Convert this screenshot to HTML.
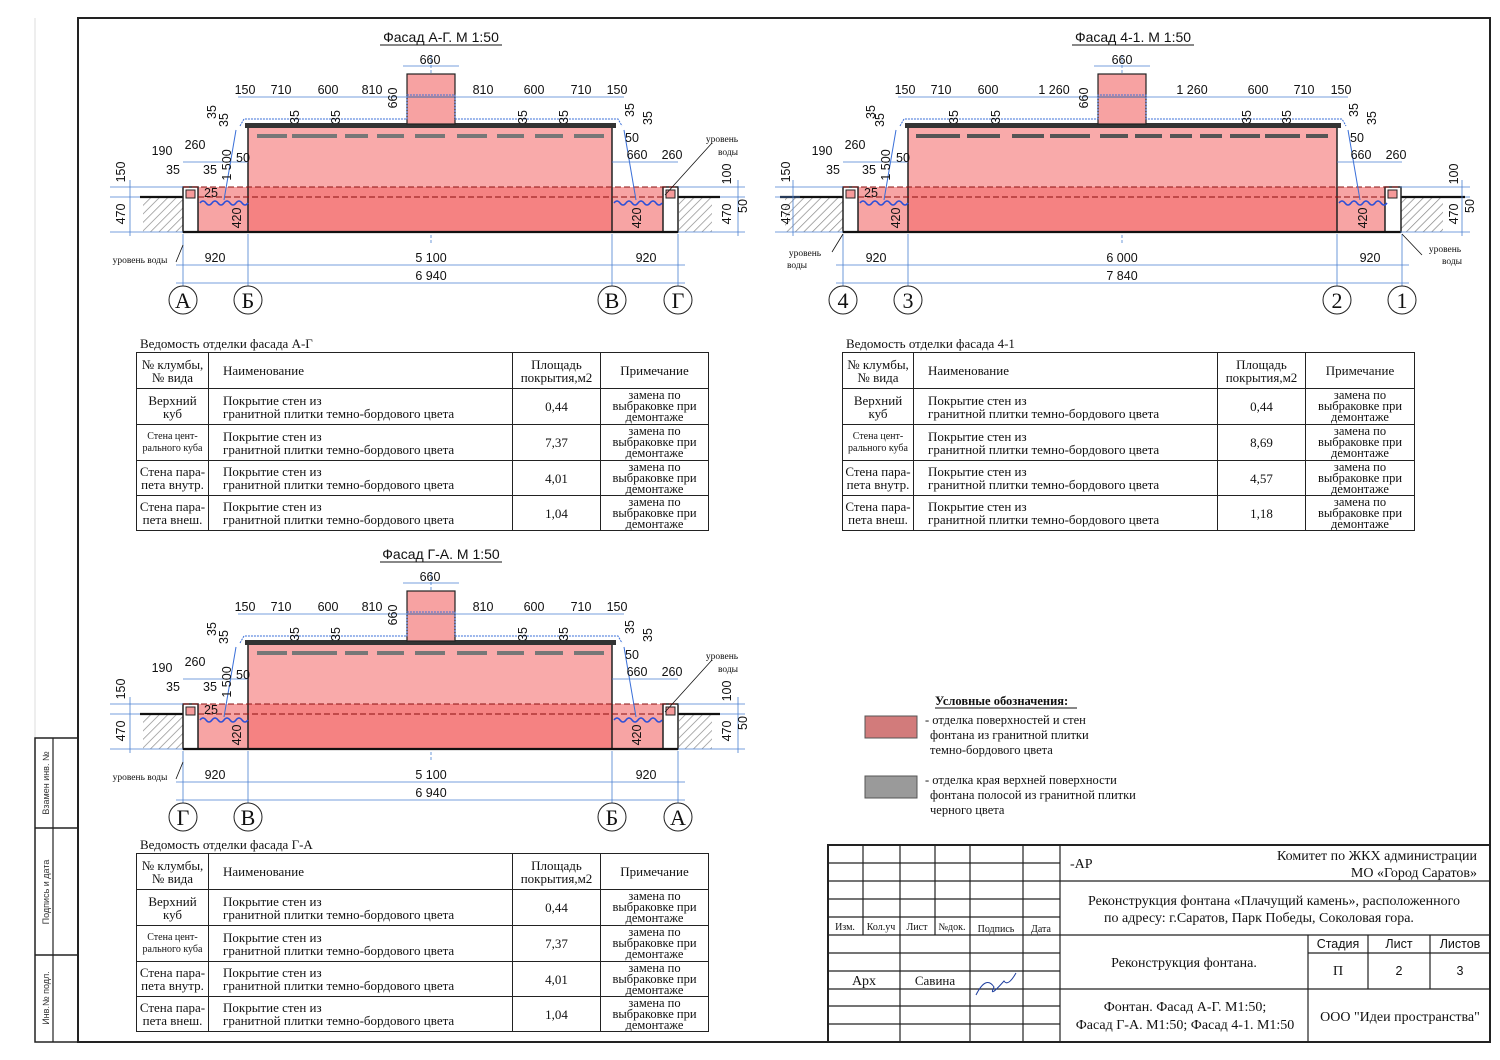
<!DOCTYPE html>
<html><head><meta charset="utf-8">
<style>
html,body{margin:0;padding:0;background:#fff;}
body{width:1500px;height:1060px;position:relative;overflow:hidden;font-family:"Liberation Sans",sans-serif;}
svg{position:absolute;left:0;top:0;}
.t{font-family:"Liberation Sans",sans-serif;font-size:12.5px;fill:#111;}
.s{font-family:"Liberation Serif",serif;fill:#111;}
table.v{position:absolute;border-collapse:collapse;table-layout:fixed;font-family:"Liberation Serif",serif;font-size:13px;color:#111;}
table.v td{border:1.5px solid #222;padding:0;text-align:center;vertical-align:middle;line-height:13px;overflow:hidden;}
table.v td.n{text-align:left;padding-left:14px;}
table.v td.sm{font-size:10px;line-height:12px;}
table.v td.nt{line-height:11px;font-size:12.5px;}
.cap{position:absolute;font-family:"Liberation Serif",serif;font-size:13px;color:#111;}
</style></head><body>
<svg width="1500" height="1060" viewBox="0 0 1500 1060">
<defs>
<pattern id="h" width="6" height="6" patternUnits="userSpaceOnUse" patternTransform="rotate(45)">
<rect width="6" height="6" fill="#fff"/><line x1="0" y1="0" x2="0" y2="6" stroke="#888" stroke-width="1.4"/></pattern>
<path id="wave" d="M0,0 q3,-4 6,0 t6,0 t6,0 t6,0 t6,0 t6,0 t6,0 t6,0" fill="none" stroke="#2b4fd8" stroke-width="1.5"/>
<g id="fA">
 <line x1="431" y1="55" x2="431" y2="245" stroke="#4a7fd0" stroke-width="0.8" stroke-dasharray="3,2"/>
 <rect x="143" y="198" width="40" height="34" fill="url(#h)"/>
 <rect x="679" y="198" width="33" height="34" fill="url(#h)"/>
 <line x1="140" y1="197" x2="183" y2="197" stroke="#111" stroke-width="2.2"/>
 <line x1="678" y1="197" x2="720" y2="197" stroke="#111" stroke-width="2.2"/>
 <rect x="198" y="187" width="50" height="45" fill="#f7a4a4"/>
 <rect x="612" y="187" width="51" height="45" fill="#f7a4a4"/>
 <rect x="183" y="187" width="15" height="45" fill="#fff" stroke="#222" stroke-width="1.5"/>
 <rect x="186" y="190" width="9" height="8" fill="#f59a9a" stroke="#222" stroke-width="1"/>
 <rect x="663" y="187" width="15" height="45" fill="#fff" stroke="#222" stroke-width="1.5"/>
 <rect x="666" y="190" width="9" height="8" fill="#f59a9a" stroke="#222" stroke-width="1"/>
 <rect x="248" y="127" width="364" height="60" fill="#f9aaaa"/>
 <rect x="248" y="187" width="364" height="45" fill="#f58282"/>
 <rect x="248" y="127" width="364" height="105" fill="none" stroke="#222" stroke-width="1.5"/>
 <rect x="245" y="123" width="371" height="5" fill="#333"/>
 <rect x="407" y="74" width="48" height="50" fill="#f7a2a2" stroke="#222" stroke-width="1.2"/>
 <line x1="407" y1="97" x2="455" y2="97" stroke="#222"/>
 <line x1="183" y1="187" x2="678" y2="187" stroke="#8a1010" stroke-width="0.9" stroke-dasharray="6,3"/>
 <line x1="198" y1="197" x2="663" y2="197" stroke="#8a1010" stroke-width="0.9" stroke-dasharray="6,3"/>
 <line x1="183" y1="232" x2="678" y2="232" stroke="#111" stroke-width="2.2"/>
 <g fill="#777"><rect x="257" y="134" width="30" height="4"/><rect x="292" y="134" width="45" height="4"/><rect x="345" y="134" width="23" height="4"/><rect x="377" y="134" width="27" height="4"/><rect x="415" y="134" width="30" height="4"/><rect x="457" y="134" width="30" height="4"/><rect x="497" y="134" width="27" height="4"/><rect x="535" y="134" width="28" height="4"/><rect x="574" y="134" width="30" height="4"/></g>
 <polyline points="240,126 244,119 407,119 407,95 455,95 455,119 618,119 622,126" fill="none" stroke="#3a6fd8" stroke-width="1" stroke-dasharray="2,1"/>
 <polyline points="236,130 224,200" fill="none" stroke="#3a6fd8" stroke-width="1"/>
 <polyline points="624,130 636,200" fill="none" stroke="#3a6fd8" stroke-width="1"/>
 <use href="#wave" x="200" y="203"/><use href="#wave" x="614" y="203"/>
 <g stroke="#4a7fd0" stroke-width="0.8" fill="none">
  <line x1="403" y1="66" x2="459" y2="66"/>
  <line x1="238" y1="97" x2="624" y2="97"/>
  <line x1="176" y1="265" x2="685" y2="265"/>
  <line x1="176" y1="283" x2="685" y2="283"/>
  <line x1="183" y1="234" x2="183" y2="286"/><line x1="248" y1="234" x2="248" y2="286"/><line x1="612" y1="234" x2="612" y2="286"/><line x1="678" y1="234" x2="678" y2="286"/>
  <line x1="110" y1="187" x2="183" y2="187"/><line x1="110" y1="197" x2="140" y2="197"/><line x1="110" y1="232" x2="183" y2="232"/>
  <line x1="130" y1="180" x2="130" y2="236"/>
  <line x1="678" y1="187" x2="745" y2="187"/><line x1="720" y1="197" x2="745" y2="197"/><line x1="678" y1="232" x2="745" y2="232"/>
  <line x1="738" y1="180" x2="738" y2="236"/>
  <line x1="183" y1="162" x2="248" y2="162"/><line x1="612" y1="162" x2="678" y2="162"/>
 </g>
 <line x1="183" y1="245" x2="176" y2="262" stroke="#111" stroke-width="0.8"/>
 <line x1="665" y1="195" x2="712" y2="143" stroke="#111" stroke-width="0.8"/>
 <g fill="#fff" stroke="#222" stroke-width="1"><circle cx="183" cy="300" r="14"/><circle cx="248" cy="300" r="14"/><circle cx="612" cy="300" r="14"/><circle cx="678" cy="300" r="14"/></g>
</g>
<g id="fB">
 <line x1="1122" y1="55" x2="1122" y2="245" stroke="#4a7fd0" stroke-width="0.8" stroke-dasharray="3,2"/>
 <rect x="785" y="198" width="58" height="34" fill="url(#h)"/>
 <rect x="1401" y="198" width="42" height="34" fill="url(#h)"/>
 <line x1="780" y1="197" x2="843" y2="197" stroke="#111" stroke-width="2.2"/>
 <line x1="1400" y1="197" x2="1465" y2="197" stroke="#111" stroke-width="2.2"/>
 <rect x="858" y="187" width="50" height="45" fill="#f7a4a4"/>
 <rect x="1337" y="187" width="48" height="45" fill="#f7a4a4"/>
 <rect x="843" y="187" width="15" height="45" fill="#fff" stroke="#222" stroke-width="1.5"/>
 <rect x="846" y="190" width="9" height="8" fill="#f59a9a" stroke="#222" stroke-width="1"/>
 <rect x="1385" y="187" width="16" height="45" fill="#fff" stroke="#222" stroke-width="1.5"/>
 <rect x="1388" y="190" width="9" height="8" fill="#f59a9a" stroke="#222" stroke-width="1"/>
 <rect x="908" y="127" width="429" height="60" fill="#f9aaaa"/>
 <rect x="908" y="187" width="429" height="45" fill="#f58282"/>
 <rect x="908" y="127" width="429" height="105" fill="none" stroke="#222" stroke-width="1.5"/>
 <rect x="905" y="123" width="436" height="5" fill="#333"/>
 <rect x="1098" y="74" width="48" height="50" fill="#f7a2a2" stroke="#222" stroke-width="1.2"/>
 <line x1="1098" y1="97" x2="1146" y2="97" stroke="#222"/>
 <line x1="843" y1="187" x2="1400" y2="187" stroke="#8a1010" stroke-width="0.9" stroke-dasharray="6,3"/>
 <line x1="858" y1="197" x2="1385" y2="197" stroke="#8a1010" stroke-width="0.9" stroke-dasharray="6,3"/>
 <line x1="843" y1="232" x2="1401" y2="232" stroke="#111" stroke-width="2.2"/>
 <g fill="#555"><rect x="916" y="134" width="44" height="4"/><rect x="967" y="134" width="33" height="4"/><rect x="1012" y="134" width="32" height="4"/><rect x="1050" y="134" width="40" height="4"/><rect x="1100" y="134" width="28" height="4"/><rect x="1135" y="134" width="27" height="4"/><rect x="1170" y="134" width="22" height="4"/><rect x="1200" y="134" width="22" height="4"/><rect x="1230" y="134" width="30" height="4"/><rect x="1265" y="134" width="35" height="4"/><rect x="1306" y="134" width="22" height="4"/></g>
 <polyline points="900,126 904,119 1098,119 1098,95 1146,95 1146,119 1342,119 1346,126" fill="none" stroke="#3a6fd8" stroke-width="1" stroke-dasharray="2,1"/>
 <polyline points="896,130 884,200" fill="none" stroke="#3a6fd8" stroke-width="1"/>
 <polyline points="1348,130 1360,200" fill="none" stroke="#3a6fd8" stroke-width="1"/>
 <use href="#wave" x="860" y="203"/><use href="#wave" x="1339" y="203"/>
 <g stroke="#4a7fd0" stroke-width="0.8" fill="none">
  <line x1="1094" y1="66" x2="1150" y2="66"/>
  <line x1="898" y1="97" x2="1348" y2="97"/>
  <line x1="836" y1="265" x2="1409" y2="265"/>
  <line x1="836" y1="283" x2="1409" y2="283"/>
  <line x1="843" y1="234" x2="843" y2="286"/><line x1="908" y1="234" x2="908" y2="286"/><line x1="1337" y1="234" x2="1337" y2="286"/><line x1="1402" y1="234" x2="1402" y2="286"/>
  <line x1="775" y1="187" x2="843" y2="187"/><line x1="775" y1="197" x2="800" y2="197"/><line x1="775" y1="232" x2="843" y2="232"/>
  <line x1="793" y1="180" x2="793" y2="236"/>
  <line x1="1400" y1="187" x2="1470" y2="187"/><line x1="1465" y1="197" x2="1470" y2="197"/><line x1="1400" y1="232" x2="1470" y2="232"/>
  <line x1="1462" y1="180" x2="1462" y2="236"/>
  <line x1="843" y1="162" x2="908" y2="162"/><line x1="1337" y1="162" x2="1402" y2="162"/>
 </g>
 <line x1="843" y1="234" x2="832" y2="252" stroke="#111" stroke-width="0.8"/>
 <line x1="1402" y1="234" x2="1422" y2="255" stroke="#111" stroke-width="0.8"/>
 <g fill="#fff" stroke="#222" stroke-width="1"><circle cx="843" cy="300" r="14"/><circle cx="908" cy="300" r="14"/><circle cx="1337" cy="300" r="14"/><circle cx="1402" cy="300" r="14"/></g>
</g>
</defs>

<rect x="78" y="18" width="1412" height="1024" fill="none" stroke="#222" stroke-width="2"/>
<line x1="35" y1="18" x2="35" y2="738" stroke="#ddd" stroke-width="1"/>
<rect x="35" y="738" width="43" height="304" fill="none" stroke="#222" stroke-width="1.5"/>
<line x1="35" y1="828" x2="78" y2="828" stroke="#222" stroke-width="1.5"/>
<line x1="35" y1="955" x2="78" y2="955" stroke="#222" stroke-width="1.5"/>
<line x1="53" y1="738" x2="53" y2="1042" stroke="#222" stroke-width="1.2"/>
<g font-family="Liberation Sans" font-size="9" fill="#333" text-anchor="middle">
<text transform="translate(49,783) rotate(-90)">Взамен инв. №</text>
<text transform="translate(49,892) rotate(-90)">Подпись и дата</text>
<text transform="translate(49,998) rotate(-90)">Инв.№ подл.</text>
</g>

<use href="#fA"/>
<use href="#fA" y="517"/>
<use href="#fB"/>

<g class="t" text-anchor="middle">
<text x="441" y="42" font-size="14">Фасад А-Г. М 1:50</text>
<line x1="380" y1="45" x2="502" y2="45" stroke="#111"/>
<text x="430" y="64">660</text>
<text x="245" y="94">150</text><text x="281" y="94">710</text><text x="328" y="94">600</text><text x="372" y="94">810</text>
<text x="483" y="94">810</text><text x="534" y="94">600</text><text x="581" y="94">710</text><text x="617" y="94">150</text>
<text transform="translate(397,98) rotate(-90)">660</text>
<text transform="translate(216,112) rotate(-90)">35</text><text transform="translate(228,120) rotate(-90)">35</text>
<text transform="translate(299,117) rotate(-90)">35</text><text transform="translate(340,117) rotate(-90)">35</text>
<text transform="translate(527,117) rotate(-90)">35</text><text transform="translate(568,117) rotate(-90)">35</text>
<text transform="translate(634,110) rotate(-90)">35</text><text transform="translate(652,118) rotate(-90)">35</text>
<text transform="translate(231,165) rotate(-90)">1 500</text>
<text x="243" y="162">50</text>
<text x="162" y="155">190</text><text x="195" y="149">260</text><text x="173" y="174">35</text><text x="210" y="174">35</text>
<text transform="translate(125,172) rotate(-90)">150</text><text transform="translate(125,214) rotate(-90)">470</text>
<text x="211" y="197">25</text>
<text transform="translate(241,218) rotate(-90)">420</text><text transform="translate(641,218) rotate(-90)">420</text>
<text x="632" y="142">50</text><text x="637" y="159">660</text><text x="672" y="159">260</text>
<text transform="translate(731,174) rotate(-90)">100</text><text transform="translate(731,214) rotate(-90)">470</text><text transform="translate(747,206) rotate(-90)">50</text>
<text x="215" y="262">920</text><text x="431" y="262">5 100</text><text x="646" y="262">920</text><text x="431" y="280">6 940</text>
</g>
<g class="s" font-size="9.5" text-anchor="middle"><text x="140" y="263">уровень воды</text><text x="722" y="142">уровень</text><text x="728" y="155">воды</text></g>
<g class="s" font-size="22" text-anchor="middle"><text x="183" y="308">А</text><text x="248" y="308">Б</text><text x="612" y="308">В</text><text x="678" y="308">Г</text></g>

<g transform="translate(0,517)">
<g class="t" text-anchor="middle">
<text x="441" y="42" font-size="14">Фасад Г-А. М 1:50</text>
<line x1="380" y1="45" x2="502" y2="45" stroke="#111"/>
<text x="430" y="64">660</text>
<text x="245" y="94">150</text><text x="281" y="94">710</text><text x="328" y="94">600</text><text x="372" y="94">810</text>
<text x="483" y="94">810</text><text x="534" y="94">600</text><text x="581" y="94">710</text><text x="617" y="94">150</text>
<text transform="translate(397,98) rotate(-90)">660</text>
<text transform="translate(216,112) rotate(-90)">35</text><text transform="translate(228,120) rotate(-90)">35</text>
<text transform="translate(299,117) rotate(-90)">35</text><text transform="translate(340,117) rotate(-90)">35</text>
<text transform="translate(527,117) rotate(-90)">35</text><text transform="translate(568,117) rotate(-90)">35</text>
<text transform="translate(634,110) rotate(-90)">35</text><text transform="translate(652,118) rotate(-90)">35</text>
<text transform="translate(231,165) rotate(-90)">1 500</text>
<text x="243" y="162">50</text>
<text x="162" y="155">190</text><text x="195" y="149">260</text><text x="173" y="174">35</text><text x="210" y="174">35</text>
<text transform="translate(125,172) rotate(-90)">150</text><text transform="translate(125,214) rotate(-90)">470</text>
<text x="211" y="197">25</text>
<text transform="translate(241,218) rotate(-90)">420</text><text transform="translate(641,218) rotate(-90)">420</text>
<text x="632" y="142">50</text><text x="637" y="159">660</text><text x="672" y="159">260</text>
<text transform="translate(731,174) rotate(-90)">100</text><text transform="translate(731,214) rotate(-90)">470</text><text transform="translate(747,206) rotate(-90)">50</text>
<text x="215" y="262">920</text><text x="431" y="262">5 100</text><text x="646" y="262">920</text><text x="431" y="280">6 940</text>
</g>
<g class="s" font-size="9.5" text-anchor="middle"><text x="140" y="263">уровень воды</text><text x="722" y="142">уровень</text><text x="728" y="155">воды</text></g>
<g class="s" font-size="22" text-anchor="middle"><text x="183" y="308">Г</text><text x="248" y="308">В</text><text x="612" y="308">Б</text><text x="678" y="308">А</text></g>
</g>

<g class="t" text-anchor="middle">
<text x="1133" y="42" font-size="14">Фасад 4-1. М 1:50</text>
<line x1="1072" y1="45" x2="1194" y2="45" stroke="#111"/>
<text x="1122" y="64">660</text>
<text x="905" y="94">150</text><text x="941" y="94">710</text><text x="988" y="94">600</text><text x="1054" y="94">1 260</text>
<text x="1192" y="94">1 260</text><text x="1258" y="94">600</text><text x="1304" y="94">710</text><text x="1341" y="94">150</text>
<text transform="translate(1088,98) rotate(-90)">660</text>
<text transform="translate(875,112) rotate(-90)">35</text><text transform="translate(884,120) rotate(-90)">35</text>
<text transform="translate(958,117) rotate(-90)">35</text><text transform="translate(1000,117) rotate(-90)">35</text>
<text transform="translate(1251,117) rotate(-90)">35</text><text transform="translate(1291,117) rotate(-90)">35</text>
<text transform="translate(1358,110) rotate(-90)">35</text><text transform="translate(1376,118) rotate(-90)">35</text>
<text transform="translate(890,165) rotate(-90)">1 500</text>
<text x="903" y="162">50</text>
<text x="822" y="155">190</text><text x="855" y="149">260</text><text x="833" y="174">35</text><text x="869" y="174">35</text>
<text transform="translate(790,172) rotate(-90)">150</text><text transform="translate(790,214) rotate(-90)">470</text>
<text x="871" y="197">25</text>
<text transform="translate(900,218) rotate(-90)">420</text><text transform="translate(1367,218) rotate(-90)">420</text>
<text x="1357" y="142">50</text><text x="1361" y="159">660</text><text x="1396" y="159">260</text>
<text transform="translate(1458,174) rotate(-90)">100</text><text transform="translate(1458,214) rotate(-90)">470</text><text transform="translate(1474,206) rotate(-90)">50</text>
<text x="876" y="262">920</text><text x="1122" y="262">6 000</text><text x="1370" y="262">920</text><text x="1122" y="280">7 840</text>
</g>
<g class="s" font-size="9.5" text-anchor="middle"><text x="805" y="256">уровень</text><text x="797" y="268">воды</text><text x="1445" y="252">уровень</text><text x="1452" y="264">воды</text></g>
<g class="s" font-size="22" text-anchor="middle"><text x="843" y="308">4</text><text x="908" y="308">3</text><text x="1337" y="308">2</text><text x="1402" y="308">1</text></g>

<g class="s" font-size="12.5">
<text x="935" y="705" font-weight="bold">Условные обозначения:</text>
<line x1="935" y1="708" x2="1077" y2="708" stroke="#111"/>
<rect x="865" y="716" width="52" height="22" fill="#d27b7b" stroke="#555"/>
<text x="925" y="724">- отделка поверхностей и стен</text>
<text x="930" y="739">фонтана из гранитной плитки</text>
<text x="930" y="754">темно-бордового цвета</text>
<rect x="865" y="776" width="52" height="22" fill="#9a9a9a" stroke="#555"/>
<text x="925" y="784">- отделка края верхней поверхности</text>
<text x="930" y="799">фонтана полосой из гранитной плитки</text>
<text x="930" y="814">черного цвета</text>
</g>

<g stroke="#222" fill="none">
<rect x="828" y="845" width="662" height="197" stroke-width="2"/>
<g stroke-width="1.2">
<line x1="828" y1="863" x2="1060" y2="863"/><line x1="828" y1="881" x2="1490" y2="881"/>
<line x1="828" y1="899" x2="1060" y2="899"/><line x1="828" y1="917" x2="1060" y2="917"/>
<line x1="828" y1="935" x2="1490" y2="935"/><line x1="828" y1="953" x2="1060" y2="953"/>
<line x1="1308" y1="953" x2="1490" y2="953"/>
<line x1="828" y1="971" x2="1060" y2="971"/><line x1="828" y1="989" x2="1490" y2="989"/>
<line x1="828" y1="1006" x2="1060" y2="1006"/><line x1="828" y1="1024" x2="1060" y2="1024"/>
<line x1="863" y1="845" x2="863" y2="935"/><line x1="900" y1="845" x2="900" y2="1042"/>
<line x1="935" y1="845" x2="935" y2="935"/><line x1="970" y1="845" x2="970" y2="1042"/>
<line x1="1023" y1="845" x2="1023" y2="1042"/><line x1="1060" y1="845" x2="1060" y2="1042"/>
<line x1="1308" y1="935" x2="1308" y2="1042"/><line x1="1368" y1="935" x2="1368" y2="989"/><line x1="1430" y1="935" x2="1430" y2="989"/>
</g></g>
<g class="s" font-size="10" text-anchor="middle">
<text x="845" y="930">Изм.</text><text x="881" y="930">Кол.уч</text><text x="917" y="930">Лист</text><text x="952" y="930">№док.</text><text x="996" y="932">Подпись</text><text x="1041" y="932">Дата</text>
</g>
<g class="s" font-size="14">
<text x="864" y="985" text-anchor="middle">Арх</text><text x="935" y="985" text-anchor="middle" font-size="13">Савина</text>
<path d="M976,995 q10,-20 18,-8 q-6,12 10,-6 q4,6 12,-8" stroke="#2040a0" fill="none"/>
<text x="1070" y="868">-АР</text>
<text x="1477" y="860" text-anchor="end">Комитет по ЖКХ администрации</text>
<text x="1477" y="877" text-anchor="end">МО «Город Саратов»</text>
<text x="1274" y="905" text-anchor="middle">Реконструкция фонтана «Плачущий камень», расположенного</text>
<text x="1259" y="922" text-anchor="middle">по адресу: г.Саратов, Парк Победы, Соколовая гора.</text>
<text x="1184" y="967" text-anchor="middle">Реконструкция фонтана.</text>
<text x="1338" y="975" text-anchor="middle">П</text>
<text x="1185" y="1011" text-anchor="middle">Фонтан. Фасад А-Г. М1:50;</text>
<text x="1185" y="1029" text-anchor="middle">Фасад Г-А. М1:50; Фасад 4-1. М1:50</text>
<text x="1400" y="1021" text-anchor="middle">ООО "Идеи пространства"</text>
</g>
<g class="t" font-size="14" text-anchor="middle">
<text x="1338" y="948">Стадия</text><text x="1399" y="948">Лист</text><text x="1460" y="948">Листов</text>
<text x="1399" y="975">2</text><text x="1460" y="975">3</text>
</g>
</svg>

<div class="cap" style="left:140px;top:336px;">Ведомость отделки фасада А-Г</div>
<table class="v" style="left:136px;top:352px;width:572px;">
<colgroup><col style="width:72px"><col style="width:304px"><col style="width:88px"><col style="width:108px"></colgroup>
<tr style="height:36px"><td>№ клумбы,<br>№ вида</td><td class="n">Наименование</td><td>Площадь<br>покрытия,м2</td><td>Примечание</td></tr>
<tr style="height:36px"><td>Верхний<br>куб</td><td class="n">Покрытие стен из<br>гранитной плитки темно-бордового цвета</td><td>0,44</td><td class="nt">замена по<br>выбраковке при<br>демонтаже</td></tr>
<tr style="height:36px"><td class="sm">Стена цент-<br>рального куба</td><td class="n">Покрытие стен из<br>гранитной плитки темно-бордового цвета</td><td>7,37</td><td class="nt">замена по<br>выбраковке при<br>демонтаже</td></tr>
<tr style="height:35px"><td>Стена пара-<br>пета внутр.</td><td class="n">Покрытие стен из<br>гранитной плитки темно-бордового цвета</td><td>4,01</td><td class="nt">замена по<br>выбраковке при<br>демонтаже</td></tr>
<tr style="height:35px"><td>Стена пара-<br>пета внеш.</td><td class="n">Покрытие стен из<br>гранитной плитки темно-бордового цвета</td><td>1,04</td><td class="nt">замена по<br>выбраковке при<br>демонтаже</td></tr>
</table>

<div class="cap" style="left:846px;top:336px;">Ведомость отделки фасада 4-1</div>
<table class="v" style="left:842px;top:352px;width:572px;">
<colgroup><col style="width:71px"><col style="width:304px"><col style="width:88px"><col style="width:109px"></colgroup>
<tr style="height:36px"><td>№ клумбы,<br>№ вида</td><td class="n">Наименование</td><td>Площадь<br>покрытия,м2</td><td>Примечание</td></tr>
<tr style="height:36px"><td>Верхний<br>куб</td><td class="n">Покрытие стен из<br>гранитной плитки темно-бордового цвета</td><td>0,44</td><td class="nt">замена по<br>выбраковке при<br>демонтаже</td></tr>
<tr style="height:36px"><td class="sm">Стена цент-<br>рального куба</td><td class="n">Покрытие стен из<br>гранитной плитки темно-бордового цвета</td><td>8,69</td><td class="nt">замена по<br>выбраковке при<br>демонтаже</td></tr>
<tr style="height:35px"><td>Стена пара-<br>пета внутр.</td><td class="n">Покрытие стен из<br>гранитной плитки темно-бордового цвета</td><td>4,57</td><td class="nt">замена по<br>выбраковке при<br>демонтаже</td></tr>
<tr style="height:35px"><td>Стена пара-<br>пета внеш.</td><td class="n">Покрытие стен из<br>гранитной плитки темно-бордового цвета</td><td>1,18</td><td class="nt">замена по<br>выбраковке при<br>демонтаже</td></tr>
</table>

<div class="cap" style="left:140px;top:837px;">Ведомость отделки фасада Г-А</div>
<table class="v" style="left:136px;top:853px;width:572px;">
<colgroup><col style="width:72px"><col style="width:304px"><col style="width:88px"><col style="width:108px"></colgroup>
<tr style="height:36px"><td>№ клумбы,<br>№ вида</td><td class="n">Наименование</td><td>Площадь<br>покрытия,м2</td><td>Примечание</td></tr>
<tr style="height:36px"><td>Верхний<br>куб</td><td class="n">Покрытие стен из<br>гранитной плитки темно-бордового цвета</td><td>0,44</td><td class="nt">замена по<br>выбраковке при<br>демонтаже</td></tr>
<tr style="height:36px"><td class="sm">Стена цент-<br>рального куба</td><td class="n">Покрытие стен из<br>гранитной плитки темно-бордового цвета</td><td>7,37</td><td class="nt">замена по<br>выбраковке при<br>демонтаже</td></tr>
<tr style="height:35px"><td>Стена пара-<br>пета внутр.</td><td class="n">Покрытие стен из<br>гранитной плитки темно-бордового цвета</td><td>4,01</td><td class="nt">замена по<br>выбраковке при<br>демонтаже</td></tr>
<tr style="height:35px"><td>Стена пара-<br>пета внеш.</td><td class="n">Покрытие стен из<br>гранитной плитки темно-бордового цвета</td><td>1,04</td><td class="nt">замена по<br>выбраковке при<br>демонтаже</td></tr>
</table>
</body></html>
